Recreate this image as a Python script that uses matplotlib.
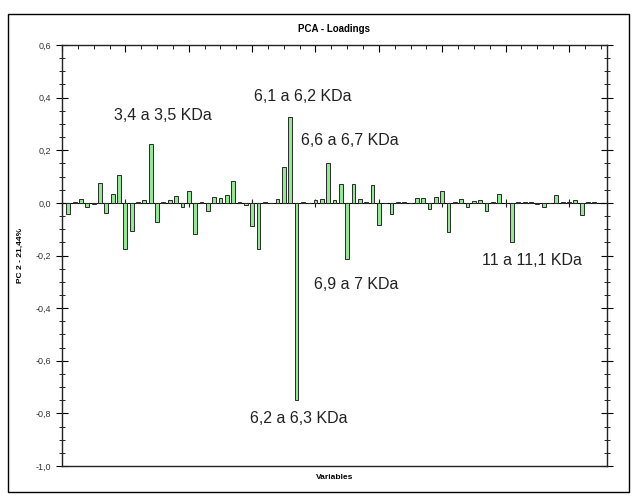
import numpy as np
import matplotlib
matplotlib.use("Agg")
import matplotlib.pyplot as plt
from matplotlib.patches import Rectangle
from matplotlib.ticker import MultipleLocator, FuncFormatter, NullFormatter

# loadings, variable 1..84
variables = np.arange(1, 85)
loadings = [
    -0.041, 0.005, 0.016, -0.017, -0.003, 0.075, -0.040, 0.032, 0.107, -0.175,
    -0.107, 0.005, 0.012, 0.223, -0.073, 0.003, 0.012, 0.026, -0.014, 0.045,
    -0.120, 0.003, -0.029, 0.022, 0.018, 0.030, 0.082, 0.003, -0.008, -0.088,
    -0.175, 0.003, 0.000, 0.013, 0.136, 0.325, -0.750, 0.003, 0.000, 0.012,
    0.015, 0.153, 0.012, 0.070, -0.213, 0.070, 0.016, 0.003, 0.067, -0.083,
    0.000, -0.044, 0.005, 0.003, 0.000, 0.020, 0.020, -0.022, 0.023, 0.046,
    -0.112, 0.003, 0.016, -0.017, 0.008, 0.012, -0.032, 0.003, 0.035, 0.000,
    -0.150, 0.003, 0.005, 0.005, -0.003, -0.015, 0.000, 0.030, 0.005, 0.005,
    0.010, -0.045, 0.003, 0.003,
]

labels = ["3,4 a 3,5 KDa", "6,1 a 6,2 KDa", "6,6 a 6,7 KDa",
          "6,9 a 7 KDa", "11 a 11,1 KDa", "6,2 a 6,3 KDa"]
label_x = [15.9, 38.0, 45.4, 46.5, 74.2, 37.4]
label_y = [0.333, 0.406, 0.238, -0.31, -0.219, -0.821]

plt.rcParams['font.family'] = ['Liberation Sans', 'DejaVu Sans']

fig = plt.figure(figsize=(6.37, 4.97), dpi=100)
ax = fig.add_axes([62 / 637, 1 - 466 / 497, (607 - 62) / 637, (466 - 45) / 497])

# outer frame
fig.patches.append(Rectangle((8 / 637, 1 - 492 / 497), 621 / 637, 478 / 497,
                             transform=fig.transFigure, fill=False,
                             edgecolor='black', linewidth=1.0))

ax.bar(variables, loadings, width=0.6, color='#93e893',
       edgecolor='#2a2a2a', linewidth=0.7, zorder=3)

ax.set_xlim(0, 86)
ax.set_ylim(-1.0, 0.6)

# zero line with its own ticks
zero = ax.secondary_xaxis(1.0 / 1.6)
zero.spines['bottom'].set_color('#808080')
zero.spines['bottom'].set_linewidth(1.0)
zero.xaxis.set_major_locator(MultipleLocator(10))
zero.xaxis.set_major_formatter(NullFormatter())
zero.tick_params(direction='inout', length=6, width=0.8, color='#222222',
                 labelbottom=False, labeltop=False)

ax.xaxis.set_ticks_position('top')
ax.xaxis.set_major_locator(MultipleLocator(10))
ax.xaxis.set_minor_locator(MultipleLocator(2.5))
ax.tick_params(axis='x', which='major', direction='in', length=5, width=0.8,
               labeltop=False, labelbottom=False)
ax.tick_params(axis='x', which='minor', direction='in', length=3, width=0.6)

ax.yaxis.set_major_locator(MultipleLocator(0.2))
ax.yaxis.set_minor_locator(MultipleLocator(0.05))
ax.yaxis.set_major_formatter(FuncFormatter(lambda v, p: f"{v:.1f}".replace('.', ',').replace('-0,0', '0,0')))
ax.tick_params(axis='y', which='major', direction='inout', length=9, width=0.8,
               labelsize=6.5, labelcolor='#333333', right=True)
ax.tick_params(axis='y', which='minor', direction='inout', length=5, width=0.6,
               right=True)

for s in ax.spines.values():
    s.set_linewidth(1.0)
    s.set_color('#222222')

ax.set_title("PCA - Loadings", fontsize=7, fontweight='bold', pad=9)
ax.set_xlabel("Variables", fontsize=6, fontweight='bold', labelpad=6)
ax.set_ylabel("PC 2 - 21,44%", fontsize=6, fontweight='bold', labelpad=8)

for t, x, y in zip(labels, label_x, label_y):
    ax.text(x, y, t, fontsize=11.5, ha='center', va='center', color='#222222')

fig.savefig("out.png", dpi=100)
